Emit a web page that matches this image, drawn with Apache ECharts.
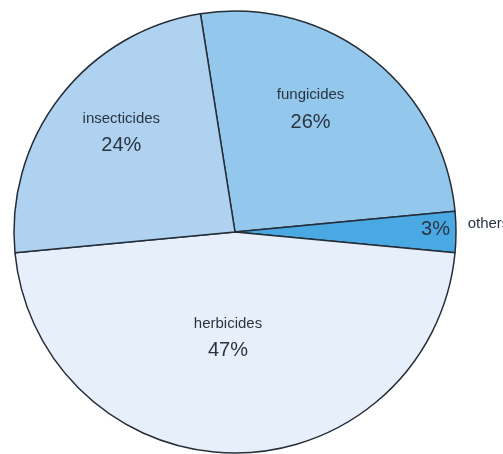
<!DOCTYPE html>
<html>
<head>
<meta charset="utf-8">
<style>
html,body{margin:0;padding:0;background:#fff;}
#chart{width:503px;height:454px;}
</style>
<script src="https://cdn.jsdelivr.net/npm/echarts@6/dist/echarts.min.js"></script>
</head>
<body>
<div id="chart"></div>
<script>
// Data
const categories = ['fungicides', 'others', 'herbicides', 'insecticides'];
const shares = [26, 3, 47, 24];

// Styles (kept separate from data)
const sliceColors = ['#93c7ec', '#4aa9e2', '#e7f0fa', '#afd2f1'];
const labelOffsets = [[6, -32], [87, -3], [-7, -7], [-24, -29]];
const nameOffset = [140, -8];

const chart = echarts.init(document.getElementById('chart'), null, {renderer: 'canvas'});

const textColor = '#2a3541';
const font = '"Liberation Sans", Arial, sans-serif';

const mainData = categories.map((c, i) => ({
  name: c,
  value: shares[i],
  itemStyle: {color: sliceColors[i]},
  label: c === 'others'
    ? {formatter: '{p|{c}%}'}
    : {formatter: '{n|{b}}\n{p|{c}%}'}
}));

const nameData = categories.map((c, i) => ({
  name: c,
  value: shares[i],
  label: {show: c === 'others'}
}));

chart.setOption({
  animation: false,
  backgroundColor: '#ffffff',
  series: [
    {
      type: 'pie',
      center: [235, 232],
      radius: [0, 221],
      startAngle: 99,
      clockwise: true,
      silent: true,
      emphasis: {disabled: true},
      itemStyle: {borderColor: '#252e38', borderWidth: 1.5},
      label: {
        show: true,
        position: 'inside',
        color: textColor,
        fontFamily: font,
        rich: {
          n: {fontSize: 15, lineHeight: 24, color: textColor, fontFamily: font},
          p: {fontSize: 20, lineHeight: 30, color: textColor, fontFamily: font}
        }
      },
      labelLine: {show: false},
      labelLayout: function (params) {
        const o = labelOffsets[params.dataIndex];
        return {dx: o[0], dy: o[1]};
      },
      data: mainData
    },
    {
      type: 'pie',
      center: [235, 232],
      radius: [0, 221],
      startAngle: 99,
      clockwise: true,
      silent: true,
      emphasis: {disabled: true},
      itemStyle: {color: 'rgba(0,0,0,0)', borderWidth: 0},
      label: {
        position: 'inside',
        formatter: '{b}',
        color: textColor,
        fontFamily: font,
        fontSize: 15
      },
      labelLine: {show: false},
      labelLayout: function () {
        return {dx: nameOffset[0], dy: nameOffset[1]};
      },
      data: nameData
    }
  ]
});
</script>
</body>
</html>
